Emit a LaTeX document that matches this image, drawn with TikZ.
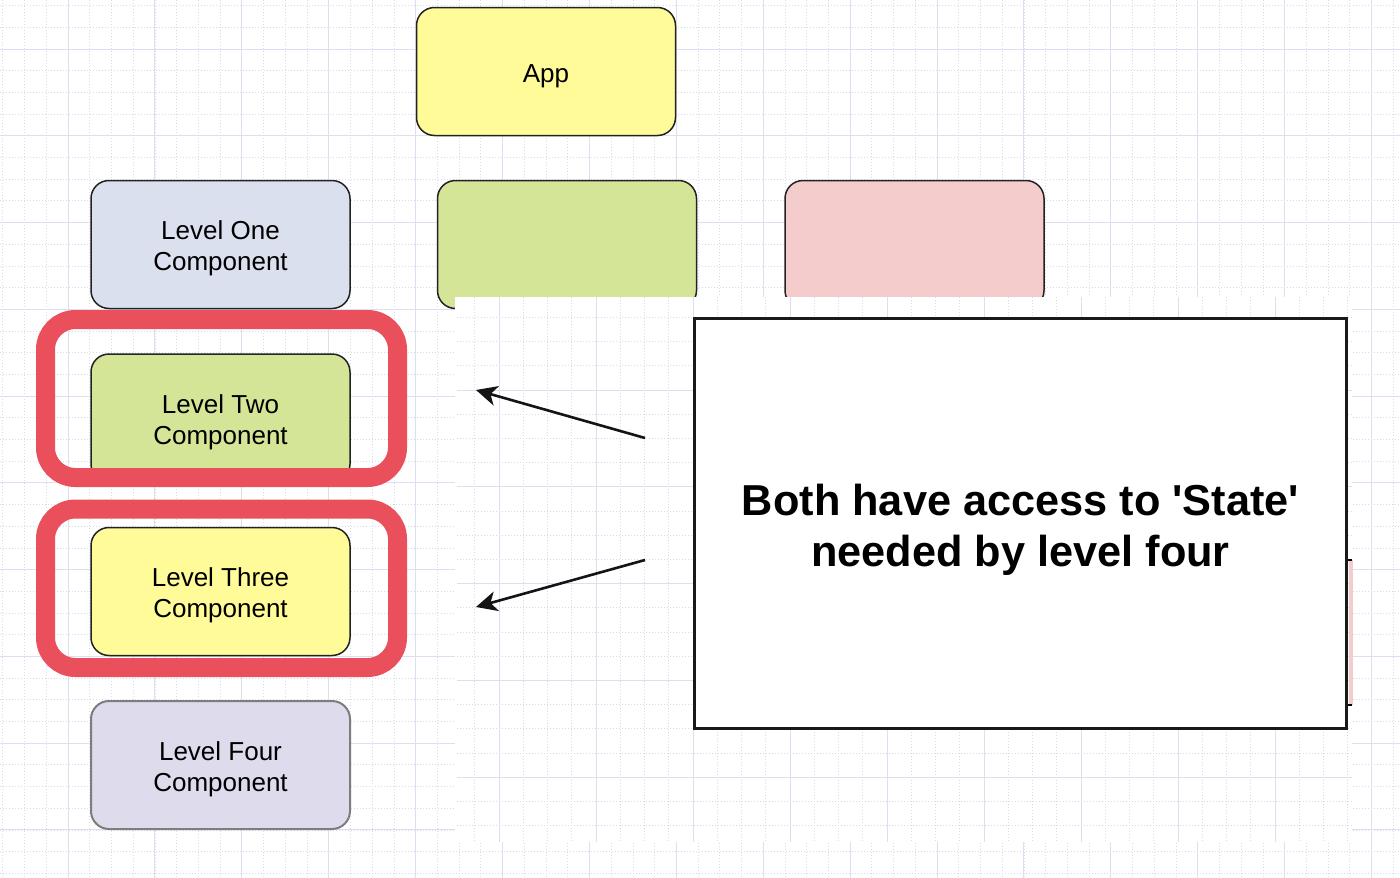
\documentclass[tikz,border=0pt]{standalone}
\usepackage{fontspec}
\setmainfont{Liberation Sans}
\usetikzlibrary{arrows.meta}
\definecolor{gridmaj}{RGB}{220,223,239}
\definecolor{gridmin}{RGB}{214,218,236}
\definecolor{appyellow}{RGB}{255,251,153}
\definecolor{lvlblue}{RGB}{218,224,238}
\definecolor{lvlgreen}{RGB}{213,229,152}
\definecolor{lvlpink}{RGB}{244,204,203}
\definecolor{lvlfour}{RGB}{222,219,236}
\definecolor{framered}{RGB}{233,80,92}
\definecolor{edgecol}{RGB}{34,34,34}
\definecolor{fouredge}{RGB}{125,125,125}
\newcommand{\padtop}[1]{\rule{0pt}{#1}}
\begin{document}
\begin{tikzpicture}[x=1pt,y=-1pt,
  comp/.style={draw=edgecol, line width=1.5pt, rounded corners=18pt,
    minimum width=259pt, minimum height=128pt, inner sep=0pt,
    align=center, font=\fontsize{26}{31}\selectfont},
  redframe/.style={draw=framered, line width=19pt, rounded corners=30pt},
  majline/.style={draw=gridmaj, line width=1pt},
  minline/.style={draw=gridmin, line width=0.7pt, dash pattern=on 1pt off 2pt},
  arrowline/.style={draw=black!92, line width=2.6pt,
    -{Stealth[length=21pt,width=20pt,inset=6pt]}},
  notebox/.style={draw=black!90, line width=2.3pt, fill=white,
    minimum width=652pt, minimum height=410pt, inner sep=0pt,
    align=center, font=\fontsize{43.3}{51}\selectfont\bfseries}
]
\useasboundingbox (0,0) rectangle (1400,878);
\fill[white] (0,0) rectangle (1400,878);
% ---- main background grid ----
\foreach \k in {-3,...,61} \draw[minline] ({68+21.725*\k},0) -- ({68+21.725*\k},878);
\foreach \k in {-2,...,38} \draw[minline] (0,{49+21.69*\k}) -- (1400,{49+21.69*\k});
\foreach \k in {0,...,15} \draw[majline] ({68+86.9*\k},0) -- ({68+86.9*\k},878);
\foreach \k in {0,...,9} \draw[majline] (0,{49+86.75*\k}) -- (1400,{49+86.75*\k});
% ---- components ----
\node[comp, fill=appyellow] (app) at (546,71.5) {\padtop{27pt}App};
\node[comp, fill=lvlblue] (one) at (220.5,244.5) {\padtop{27pt}Level One\\Component};
\node[comp, fill=lvlgreen] (greenbox) at (567,244.5) {};
\node[comp, fill=lvlpink] (pinkbox) at (914.5,244.5) {};
\node[comp, fill=lvlgreen] (two) at (220.5,418) {\padtop{27pt}Level Two\\Component};
\node[comp, fill=appyellow] (three) at (220.5,591.5) {\padtop{27pt}Level Three\\Component};
\node[comp, fill=lvlfour, draw=fouredge, line width=2pt] (four) at (220.5,765) {\padtop{27pt}Level Four\\Component};
% ---- highlight frames ----
\draw[redframe] (45.5,319.5) rectangle (397.5,477.5);
\draw[redframe] (45.5,509) rectangle (397.5,667.5);
% ---- pasted overlay with its own grid ----
\fill[white] (455,297) rectangle (1352,842);
\begin{scope}
\clip (457,297) rectangle (1352,842);
\foreach \k in {-5,...,36} \draw[minline] ({499+24.25*\k},297) -- ({499+24.25*\k},842);
\foreach \k in {-5,...,20} \draw[minline] (457,{390+24.19*\k}) -- (1352,{390+24.19*\k});
\foreach \k in {-1,...,9} \draw[majline] ({499+97*\k},297) -- ({499+97*\k},842);
\foreach \k in {-1,...,5} \draw[majline] (457,{390+96.75*\k}) -- (1352,{390+96.75*\k});
\end{scope}
% ---- arrows ----
\coordinate (a1s) at (645,438);
\coordinate (a1e) at (476,390);
\coordinate (a2s) at (645,560);
\coordinate (a2e) at (476,607);
\draw[arrowline] (a1s) -- (a1e);
\draw[arrowline] (a2s) -- (a2e);
% ---- note ----
\node[notebox] (note) at (1020.5,523.5) {\padtop{43pt}Both have access to \textquotesingle State\textquotesingle\\needed by level four};
% ---- peeking fragment at right edge ----
\fill[lvlpink] (1349,560) rectangle (1353,705);
\draw[black, line width=1.2pt] (1348,560) -- (1352,560);
\draw[black, line width=1.2pt] (1348,705) -- (1352,705);
\end{tikzpicture}
\end{document}
